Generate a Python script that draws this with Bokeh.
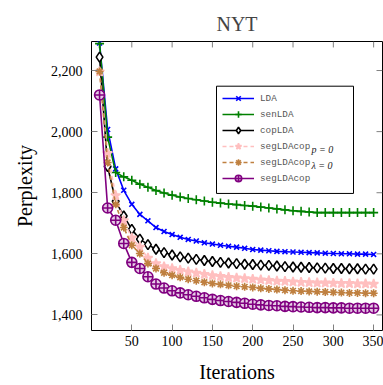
from bokeh.plotting import figure
from bokeh.models import (Range1d, NumeralTickFormatter, Legend, LegendItem,
                          BoxAnnotation, Label, FixedTicker)
from bokeh.embed import file_html
from bokeh.resources import INLINE

iterations = list(range(10, 351, 10))

lda = [2290, 2007, 1878, 1808, 1762, 1729, 1708, 1686, 1673, 1663, 1654, 1647, 1642, 1636, 1632,
       1628, 1625, 1622, 1618, 1614, 1612, 1610, 1608, 1607, 1606, 1605, 1604, 1603, 1602, 1601,
       1600, 1600, 1599, 1599, 1598]
sen_lda = [2288, 1982, 1866, 1852, 1841, 1828, 1818, 1807, 1799, 1792, 1786, 1781, 1777, 1773, 1769,
           1766, 1763, 1761, 1758, 1756, 1753, 1750, 1747, 1744, 1741, 1739, 1737, 1735, 1735, 1735,
           1735, 1735, 1735, 1735, 1735]
cop_lda = [2244, 1886, 1772, 1724, 1680, 1648, 1630, 1615, 1604, 1596, 1590, 1586, 1582, 1578, 1575,
           1572, 1570, 1568, 1566, 1565, 1563, 1562, 1560, 1558, 1557, 1556, 1555, 1554, 1553, 1552,
           1552, 1551, 1551, 1550, 1550]
seg_p0 = [2196, 1929, 1791, 1709, 1652, 1622, 1586, 1568, 1558, 1552, 1546, 1541, 1537, 1533, 1529,
          1526, 1523, 1521, 1519, 1517, 1515, 1513, 1511, 1510, 1508, 1507, 1506, 1505, 1505, 1504,
          1503, 1503, 1502, 1502, 1501]
seg_l0 = [2197, 1899, 1762, 1686, 1628, 1601, 1568, 1552, 1538, 1530, 1523, 1517, 1512, 1507, 1503,
          1500, 1497, 1494, 1492, 1490, 1487, 1485, 1483, 1481, 1479, 1478, 1477, 1476, 1475, 1474,
          1473, 1472, 1472, 1471, 1471]
seg_cop = [2120, 1750, 1710, 1634, 1572, 1552, 1525, 1501, 1488, 1479, 1472, 1466, 1461, 1456, 1451,
           1447, 1444, 1441, 1438, 1435, 1433, 1431, 1430, 1428, 1427, 1426, 1425, 1424, 1424, 1423,
           1423, 1422, 1422, 1422, 1422]

x_ticks = [50, 100, 150, 200, 250, 300, 350]
y_ticks = [1400, 1600, 1800, 2000, 2200]

X0, X1 = 0, 361
Y0, Y1 = 1349, 2295

SERIF = "Liberation Serif"
MONO = "Liberation Mono"

W, H = 383, 385
BL, BR, BT, BB = 91, 1, 41, 53

p = figure(width=W, height=H, x_range=Range1d(X0, X1), y_range=Range1d(Y0, Y1),
           output_backend="svg", toolbar_location=None, title="NYT",
           min_border_left=BL, min_border_right=BR, min_border_top=BT, min_border_bottom=BB)
p.title.align = "center"
p.title.vertical_align = "top"
p.title.text_font = SERIF
p.title.text_font_size = "20px"
p.title.text_font_style = "normal"
p.title.standoff = 10

p.xgrid.visible = False
p.ygrid.visible = False
p.outline_line_color = "black"
p.outline_line_width = 1
p.background_fill_color = "white"
p.border_fill_color = "white"

TICK_COLOR = "#808080"
TICK_LEN = 6

for ax in (p.xaxis[0], p.yaxis[0]):
    ax.axis_line_color = None
    ax.major_tick_in = TICK_LEN
    ax.major_tick_out = 0
    ax.major_tick_line_color = TICK_COLOR
    ax.minor_tick_line_color = None
    ax.major_label_text_font = SERIF
    ax.major_label_text_font_size = "14px"
    ax.major_label_text_color = "black"
    ax.axis_label_text_font = SERIF
    ax.axis_label_text_font_size = "20px"
    ax.axis_label_text_font_style = "normal"
    ax.axis_label_text_color = "black"

p.xaxis.ticker = FixedTicker(ticks=x_ticks)
p.yaxis.ticker = FixedTicker(ticks=y_ticks)
p.yaxis.formatter = NumeralTickFormatter(format="0,0")
p.xaxis.axis_label = "Iterations"
p.yaxis.axis_label = "Perplexity"
p.xaxis.major_label_standoff = 5
p.yaxis.major_label_standoff = 9
p.xaxis.axis_label_standoff = 12
p.yaxis.axis_label_standoff = 12

frame_w = W - BL - BR
frame_h = H - BT - BB
sx = (X1 - X0) / frame_w
sy = (Y1 - Y0) / frame_h

# mirrored ticks on the top and right edges
p.segment(x0=x_ticks, y0=[Y1] * len(x_ticks), x1=x_ticks, y1=[Y1 - TICK_LEN * sy] * len(x_ticks),
          line_color=TICK_COLOR, line_width=1)
p.segment(x0=[X1] * len(y_ticks), y0=y_ticks, x1=[X1 - TICK_LEN * sx] * len(y_ticks), y1=y_ticks,
          line_color=TICK_COLOR, line_width=1)

series = [
    ("LDA", lda, "#0000FF", "solid", "x", 7, None),
    ("senLDA", sen_lda, "#008000", "solid", "cross", 9, None),
    ("copLDA", cop_lda, "black", "solid", "diamond", 10, "white"),
    ("segLDAcop", seg_p0, "#FFBFBF", "4 3", "star", 10, "#FFBFBF"),
    ("segLDAcop", seg_l0, "#BF8040", "4 3", "asterisk", 8, None),
    ("segLDAcop", seg_cop, "#800080", "solid", "circle_cross", 10, "#E6CCE6"),
]

items = []
for name, vals, color, dash, marker, size, fill in series:
    ln = p.line(iterations, vals, line_color=color, line_width=1.6, line_dash=dash)
    sc = p.scatter(iterations, vals, marker=marker, size=size, line_color=color,
                   line_width=1.6, fill_color=fill if fill else color)
    items.append(LegendItem(label=name, renderers=[ln, sc]))

# legend frame (box drawn separately so it can include the subscripts)
leg_left, leg_top, leg_w, leg_h = 125, 45, 137, 108
box = BoxAnnotation(left=X0 + leg_left * sx, right=X0 + (leg_left + leg_w) * sx,
                    top=Y1 - leg_top * sy, bottom=Y1 - (leg_top + leg_h) * sy,
                    fill_color="white", fill_alpha=1, line_color="black", line_width=1,
                    line_alpha=1)
p.add_layout(box)

legend = Legend(items=items, location=(leg_left, int(frame_h - leg_top - leg_h)))
legend.label_text_font = MONO
legend.label_text_font_size = "9.3px"
legend.label_text_color = "#555555"
legend.glyph_width = 32
legend.glyph_height = 16
legend.label_height = 16
legend.label_standoff = 6
legend.spacing = 0
legend.padding = 6
legend.margin = 0
legend.border_line_alpha = 0
legend.background_fill_alpha = 0
p.add_layout(legend)

sub_x = leg_left + 6 + 32 + 6 + 51
for row, txt in [(3, "p = 0"), (4, "λ = 0")]:
    cy = leg_top + 6 + 16 * row + 8 + 2
    lab = Label(x=X0 + sub_x * sx, y=Y1 - cy * sy, text=txt, text_font=SERIF,
                text_font_size="10px", text_font_style="italic", text_color="#222222",
                text_baseline="middle", text_align="left")
    p.add_layout(lab)

open("out.html", "w").write(file_html(p, INLINE))
